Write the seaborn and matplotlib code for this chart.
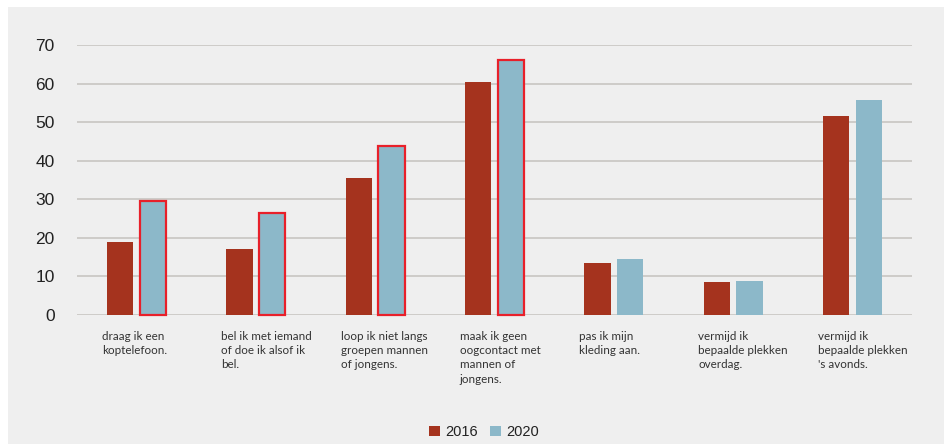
import matplotlib
matplotlib.use("Agg")
import matplotlib.pyplot as plt
import matplotlib.transforms as mtransforms
from matplotlib.patches import Rectangle, Patch
import seaborn as sns
import pandas as pd

categories = [
    "draag ik een\nkoptelefoon.",
    "bel ik met iemand\nof doe ik alsof ik\nbel.",
    "loop ik niet langs\ngroepen mannen\nof jongens.",
    "maak ik geen\noogcontact met\nmannen of\njongens.",
    "pas ik mijn\nkleding aan.",
    "vermijd ik\nbepaalde plekken\noverdag.",
    "vermijd ik\nbepaalde plekken\n's avonds.",
]
values_2016 = [19.0, 17.1, 35.4, 60.3, 13.6, 8.6, 51.7]
values_2020 = [29.6, 26.4, 43.9, 66.1, 14.5, 8.9, 55.8]
years = ["2016", "2020"]
highlight_2020 = [True, True, True, True, False, False, False]

c2016 = "#a5331e"
c2020 = "#8cb8c9"
bg = "#efefef"

df = pd.DataFrame({
    "cat": list(range(len(categories))) * 2,
    "year": [years[0]] * len(categories) + [years[1]] * len(categories),
    "value": values_2016 + values_2020,
})

sns.set_theme(style="white")
plt.rcParams["font.family"] = ["Liberation Sans", "DejaVu Sans"]

fig = plt.figure(figsize=(9.44, 4.44), dpi=100)
fig.patch.set_facecolor("white")
fig.add_artist(Rectangle((8 / 944, 0), 1, 1 - 7 / 444, transform=fig.transFigure,
                         facecolor=bg, edgecolor="none", zorder=-10))

ax = fig.add_axes([77 / 944, 1 - 315 / 444, (912 - 77) / 944, 270 / 444])
ax.set_facecolor(bg)
ax.patch.set_alpha(0)

sns.barplot(data=df, x="cat", y="value", hue="year", palette=[c2016, c2020],
            width=0.55, gap=0.2, ax=ax, legend=False, saturation=1, linewidth=0)

# red outlines on highlighted 2020 bars
bars2020 = ax.containers[1]
for patch, hl in zip(bars2020, highlight_2020):
    if hl:
        patch.set_edgecolor("#e8202a")
        patch.set_linewidth(1.6)
        patch.set_clip_on(False)

ax.set_ylim(0, 70)
ax.set_yticks(range(0, 71, 10))
ax.yaxis.grid(True, color="#c8c6c2", linewidth=1.2)
ax.set_axisbelow(True)
for s in ax.spines.values():
    s.set_visible(False)
ax.tick_params(axis="y", length=0, pad=16, labelsize=12.5, labelcolor="#222222")
ax.set_xticks([])
ax.set_xlabel("")
ax.set_ylabel("")
ax.set_xlim(-0.5, len(categories) - 0.5)

trans = mtransforms.blended_transform_factory(ax.transData, ax.transAxes)
for i, lab in enumerate(categories):
    ax.text(i - 0.29, -0.06, lab, transform=trans, ha="left", va="top",
            fontsize=8.4, color="#333333", linespacing=1.35,
            family=["Lato", "DejaVu Sans"])

handles = [Patch(facecolor=c2016, edgecolor="none"), Patch(facecolor=c2020, edgecolor="none")]
fig.legend(handles, years, loc="center", bbox_to_anchor=(484 / 944, 1 - 432 / 444), ncol=2,
           frameon=False, fontsize=10.5, handlelength=0.75, handleheight=0.75,
           handletextpad=0.4, columnspacing=0.8, labelcolor="#222222")

fig.savefig("out.png", dpi=100, facecolor=fig.get_facecolor())
